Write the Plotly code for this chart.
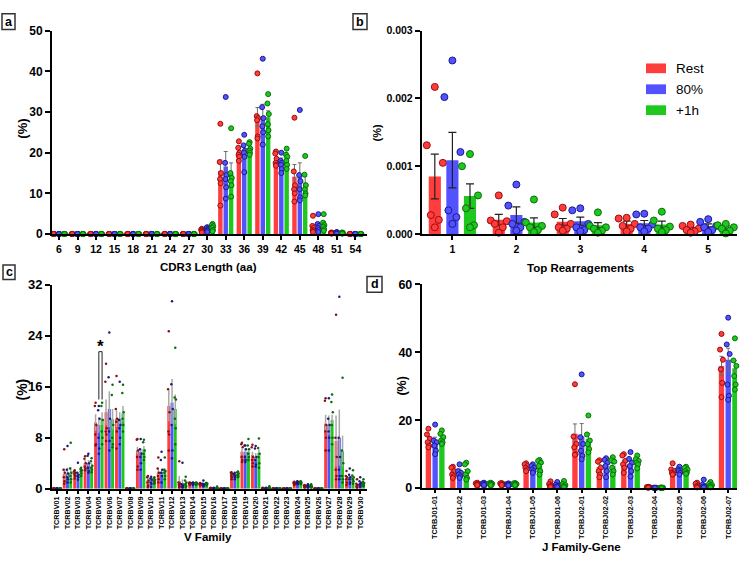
import plotly.graph_objects as go

W, H = 740, 562
FONT = "Liberation Sans, Arial, Helvetica, sans-serif"

SERIES = ["Rest", "80%", "+1h"]
BAR_COLORS = ["#ff3d3d", "#5252ff", "#1ec81e"]
EDGE_COLORS = ["#9a0d0d", "#1c1c8c", "#0a6e0a"]
SMALL_DOT_COLORS = ["#8a1010", "#1a1a80", "#0c6a0c"]

# ---------------- panel a : CDR3 length ----------------
CDR3_LENGTHS = [6, 9, 12, 15, 18, 21, 24, 27, 30, 33, 36, 39, 42, 45, 48, 51, 54]
CDR3_MEAN_REST = [0.02, 0.02, 0.02, 0.02, 0.02, 0.02, 0.02, 0.02, 1.2, 15.5, 20.3, 28.8, 17.9, 14.1, 1.8, 0.3, 0.02]
CDR3_MEAN_80 = [0.02, 0.02, 0.02, 0.02, 0.02, 0.02, 0.02, 0.02, 1.5, 16.6, 20.6, 28.9, 18.0, 14.5, 2.1, 0.4, 0.02]
CDR3_MEAN_1H = [0.02, 0.02, 0.02, 0.02, 0.02, 0.02, 0.02, 0.02, 2.2, 15.0, 21.1, 28.7, 19.1, 12.7, 2.5, 0.3, 0.02]
CDR3_SEM_REST = [0, 0, 0, 0, 0, 0, 0, 0, 0.3, 2.7, 1.0, 2.3, 0.8, 3.0, 0.6, 0.1, 0]
CDR3_SEM_80 = [0, 0, 0, 0, 0, 0, 0, 0, 0.4, 3.7, 1.4, 3.0, 0.7, 3.0, 0.7, 0.1, 0]
CDR3_SEM_1H = [0, 0, 0, 0, 0, 0, 0, 0, 0.4, 2.5, 0.8, 1.6, 0.8, 1.5, 0.6, 0.1, 0]
Z6 = [0.02] * 6
CDR3_PTS_REST = [Z6] * 8 + [
    [1.3, 1.1, 0.9, 0.8, 0.6, 0.4], [27.1, 17.7, 15.0, 13.5, 12.5, 7.0],
    [22.8, 21.2, 20.0, 19.5, 19.0, 18.0], [39.5, 29.0, 28.5, 28.0, 24.0, 23.5],
    [20.3, 19.8, 18.5, 17.5, 17.0, 16.8], [28.6, 15.4, 12.0, 11.0, 10.0, 8.0],
    [4.5, 2.0, 1.5, 1.0, 0.8, 0.5], [0.4, 0.3, 0.3, 0.2, 0.2, 0.1], Z6]
CDR3_PTS_80 = [Z6] * 8 + [
    [1.7, 1.5, 1.2, 1.0, 0.8, 0.5], [33.7, 17.5, 14.5, 13.5, 11.5, 8.7],
    [24.4, 21.8, 20.5, 20.0, 19.0, 15.2], [43.1, 31.2, 28.5, 26.5, 25.0, 22.0],
    [20.0, 18.0, 17.5, 17.0, 16.0, 15.0], [30.5, 14.5, 13.0, 11.0, 9.0, 8.3],
    [4.9, 2.5, 2.0, 1.5, 1.0, 0.5], [0.5, 0.4, 0.3, 0.3, 0.2, 0.1], Z6]
CDR3_PTS_1H = [Z6] * 8 + [
    [2.5, 2.2, 1.9, 1.5, 1.0, 0.7], [26.0, 15.0, 13.8, 13.0, 12.0, 9.2],
    [22.6, 22.2, 21.0, 20.5, 20.0, 19.5], [34.4, 32.1, 29.5, 27.0, 25.5, 24.0],
    [21.0, 19.5, 19.0, 18.0, 17.0, 16.0], [19.2, 14.6, 12.0, 11.0, 10.0, 9.5],
    [4.9, 2.8, 2.2, 1.8, 1.2, 0.8], [0.4, 0.3, 0.3, 0.2, 0.2, 0.1], Z6]

# ---------------- panel b : top rearrangements ----------------
TOP_RANKS = ["1", "2", "3", "4", "5"]
TOP_MEAN_REST = [0.00085, 0.00021, 0.00018, 0.00015, 0.00008]
TOP_MEAN_80 = [0.00109, 0.00028, 0.00019, 0.00016, 0.00012]
TOP_MEAN_1H = [0.00056, 0.00017, 0.00013, 0.00014, 0.00009]
TOP_SEM_REST = [0.00033, 0.00008, 0.00005, 0.00004, 0.00002]
TOP_SEM_80 = [0.00041, 0.00012, 0.00006, 0.00004, 0.00003]
TOP_SEM_1H = [0.00018, 0.00007, 0.00004, 0.00005, 0.00003]
TOP_PTS_REST = [[0.00217, 0.00131, 0.00105, 0.00028, 0.00021, 0.00010],
                [0.00057, 0.00020, 0.00019, 0.00015, 0.00010, 0.00002],
                [0.00039, 0.00029, 0.00015, 0.00010, 0.00008, 0.00005],
                [0.00024, 0.00023, 0.00015, 0.00012, 0.00008, 0.00004],
                [0.00014, 0.00012, 0.00008, 0.00006, 0.00004, 0.00002]]
TOP_PTS_80 = [[0.00256, 0.00202, 0.00121, 0.00035, 0.00025, 0.00015],
              [0.00073, 0.00042, 0.00018, 0.00015, 0.00010, 0.00005],
              [0.00038, 0.00035, 0.00015, 0.00010, 0.00006, 0.00004],
              [0.00030, 0.00029, 0.00014, 0.00010, 0.00008, 0.00004],
              [0.00022, 0.00018, 0.00012, 0.00010, 0.00006, 0.00003]]
TOP_PTS_1H = [[0.00118, 0.00100, 0.00057, 0.00038, 0.00013, 0.00010],
              [0.00051, 0.00017, 0.00012, 0.00010, 0.00006, 0.00003],
              [0.00032, 0.00012, 0.00010, 0.00008, 0.00005, 0.00002],
              [0.00033, 0.00020, 0.00011, 0.00008, 0.00006, 0.00003],
              [0.00015, 0.00013, 0.00010, 0.00008, 0.00005, 0.00001]]

# ---------------- panel c : V family ----------------
V_FAMILIES = ["TCRBV%02d" % i for i in range(1, 31)]
V_MEAN_REST = [0.05, 2.3, 2.6, 4.0, 10.4, 12.0, 11.0, 0.05, 6.0, 1.3, 2.6, 13.0, 1.2, 0.9, 0.8,
               0.1, 0.05, 2.3, 5.8, 5.3, 0.1, 0.05, 0.05, 0.9, 0.4, 0.05, 10.2, 7.5, 1.6, 0.6]
V_MEAN_80 = [0.05, 2.4, 2.3, 4.0, 10.0, 12.5, 11.0, 0.05, 5.8, 1.4, 2.6, 13.5, 0.9, 0.9, 0.7,
             0.1, 0.05, 2.2, 5.8, 5.0, 0.1, 0.05, 0.05, 1.0, 0.4, 0.05, 10.0, 8.0, 1.8, 0.9]
V_MEAN_1H = [0.05, 2.5, 3.0, 3.5, 11.0, 10.9, 11.8, 0.05, 6.2, 1.4, 2.8, 12.5, 0.9, 0.9, 0.8,
             0.1, 0.05, 2.5, 5.8, 5.6, 0.15, 0.05, 0.05, 1.0, 0.4, 0.05, 10.8, 5.9, 1.7, 0.9]
V_SEM_REST = [0, 0.9, 0.3, 0.5, 1.3, 2.0, 1.3, 0, 0.6, 0.5, 0.6, 2.4, 0.8, 0.1, 0.1,
              0.05, 0, 0.3, 0.5, 0.5, 0.05, 0, 0, 0.1, 0.1, 0, 1.4, 4.0, 0.3, 0.2]
V_SEM_80 = [0, 0.9, 0.3, 0.5, 1.2, 2.8, 1.0, 0, 0.5, 0.4, 0.5, 3.7, 0.6, 0.1, 0.2,
            0.05, 0, 0.3, 0.5, 0.6, 0.05, 0, 0, 0.1, 0.1, 0, 1.5, 4.4, 0.3, 0.3]
V_SEM_1H = [0, 0.9, 0.3, 0.5, 1.0, 1.6, 1.2, 0, 0.5, 0.3, 0.4, 2.3, 0.3, 0.1, 0.1,
            0.05, 0, 0.3, 0.6, 0.6, 0.05, 0, 0, 0.1, 0.1, 0, 0.8, 2.4, 0.3, 0.3]
Z = [0.05, 0.04, 0.03, 0.02, 0.02, 0.01]
V_PTS_REST = [Z, [6.2, 3.0, 2.5, 1.8, 1.2, 0.8], [2.9, 2.7, 2.5, 2.3, 2.0, 1.6], [5.1, 4.7, 4.0, 3.5, 3.2, 2.9],
              [13.5, 13.0, 10.0, 8.5, 7.0, 6.8], [19.6, 16.8, 9.5, 9.0, 8.5, 7.5], [17.7, 12.5, 11.0, 10.5, 9.0, 6.3],
              Z, [7.8, 7.7, 6.0, 5.0, 3.5, 3.0], [2.0, 1.8, 1.3, 1.0, 0.5, 0.3], [4.9, 3.2, 2.5, 2.0, 1.5, 1.0],
              [24.7, 15.6, 12.0, 9.0, 8.5, 6.0], [4.3, 1.0, 0.8, 0.6, 0.4, 0.2], [1.0, 0.9, 0.9, 0.8, 0.7, 0.6],
              [0.9, 0.8, 0.8, 0.7, 0.6, 0.5], [0.15, 0.1, 0.1, 0.05, 0.05, 0.02], Z,
              [2.6, 2.5, 2.3, 2.1, 1.8, 1.5], [7.2, 7.0, 6.5, 5.0, 4.5, 4.2], [6.9, 6.5, 5.0, 4.5, 4.0, 3.5],
              [0.15, 0.1, 0.1, 0.05, 0.05, 0.02], Z, Z, [1.1, 1.0, 0.9, 0.8, 0.7, 0.6],
              [0.6, 0.5, 0.4, 0.3, 0.3, 0.2], Z, [14.2, 13.8, 10.0, 9.0, 8.0, 6.0],
              [27.3, 8.0, 5.0, 3.0, 2.0, 1.5], [2.8, 2.0, 1.8, 1.5, 1.0, 0.6], [1.5, 0.8, 0.6, 0.4, 0.3, 0.2]]
V_PTS_80 = [Z, [6.7, 3.0, 2.4, 1.8, 1.5, 1.0], [4.1, 2.5, 2.2, 2.0, 1.8, 1.4], [5.5, 5.2, 4.0, 3.3, 2.8, 2.5],
            [13.0, 12.3, 11.0, 8.0, 6.3, 5.5], [24.5, 17.5, 11.0, 9.0, 7.5, 6.0], [16.8, 10.8, 10.0, 9.5, 8.0, 7.0],
            Z, [7.8, 6.2, 5.5, 5.0, 4.0, 3.0], [1.9, 1.6, 1.4, 1.0, 0.8, 0.3], [5.8, 4.5, 3.0, 2.5, 2.0, 1.0],
            [29.4, 16.4, 12.5, 10.0, 6.0, 4.8], [4.1, 0.7, 0.5, 0.4, 0.3, 0.2], [1.0, 0.9, 0.9, 0.8, 0.7, 0.6],
            [1.3, 0.8, 0.7, 0.6, 0.5, 0.4], [0.15, 0.1, 0.1, 0.05, 0.05, 0.02], Z,
            [2.5, 2.3, 2.1, 2.0, 1.8, 1.5], [6.8, 6.8, 6.2, 5.0, 4.5, 4.2], [6.7, 6.3, 5.0, 4.5, 3.8, 3.5],
            [0.15, 0.1, 0.1, 0.05, 0.05, 0.02], Z, Z, [1.2, 1.1, 1.0, 0.9, 0.8, 0.7],
            [0.7, 0.5, 0.4, 0.3, 0.3, 0.2], Z, [14.2, 11.0, 10.0, 9.0, 8.0, 6.0],
            [30.1, 8.0, 5.0, 3.0, 2.0, 1.5], [3.2, 2.2, 1.8, 1.5, 1.0, 0.8], [1.8, 1.2, 0.9, 0.7, 0.5, 0.3]]
V_PTS_1H = [Z, [7.2, 3.2, 2.5, 2.0, 1.5, 1.0], [3.3, 3.1, 2.9, 2.7, 2.4, 2.0], [4.8, 4.3, 3.6, 3.3, 3.0, 2.6],
            [13.5, 13.0, 10.8, 9.0, 8.0, 7.0], [16.3, 14.7, 10.0, 8.0, 7.0, 6.5], [16.3, 15.0, 12.0, 11.0, 10.0, 9.0],
            Z, [7.7, 7.3, 6.0, 5.5, 5.0, 4.5], [1.8, 1.6, 1.4, 1.2, 1.0, 0.8], [4.9, 3.0, 2.8, 2.5, 2.0, 1.5],
            [22.1, 14.3, 14.0, 11.0, 9.5, 7.0], [1.9, 1.3, 1.0, 0.7, 0.4, 0.2], [1.0, 0.9, 0.9, 0.8, 0.7, 0.6],
            [0.9, 0.9, 0.8, 0.7, 0.6, 0.5], [0.35, 0.1, 0.1, 0.05, 0.05, 0.02], Z,
            [2.7, 2.6, 2.4, 2.2, 2.0, 1.8], [7.8, 6.8, 6.2, 5.5, 5.0, 4.5], [7.9, 6.4, 5.5, 5.0, 4.0, 3.3],
            [0.4, 0.15, 0.1, 0.1, 0.05, 0.02], Z, Z, [1.2, 1.1, 1.0, 0.9, 0.8, 0.7],
            [0.7, 0.5, 0.4, 0.4, 0.3, 0.2], Z, [14.8, 13.6, 12.0, 10.0, 8.0, 7.0],
            [17.4, 6.0, 4.0, 2.0, 1.5, 1.0], [2.9, 2.1, 1.8, 1.5, 1.2, 0.8], [1.5, 1.1, 0.9, 0.7, 0.6, 0.4]]
SIG_FAMILY = "TCRBV05"
SIG_LOW, SIG_HIGH, SIG_STAR_Y = 14.0, 21.5, 23.0

# ---------------- panel d : J family-gene ----------------
J_GENES = ["TCRBJ01-01", "TCRBJ01-02", "TCRBJ01-03", "TCRBJ01-04", "TCRBJ01-05", "TCRBJ01-06",
           "TCRBJ02-01", "TCRBJ02-02", "TCRBJ02-03", "TCRBJ02-04", "TCRBJ02-05", "TCRBJ02-06", "TCRBJ02-07"]
J_MEAN_REST = [14.2, 5.0, 1.2, 1.2, 6.7, 0.9, 16.0, 6.2, 7.2, 0.3, 5.2, 0.8, 36.0]
J_MEAN_80 = [13.8, 5.0, 1.2, 1.1, 5.9, 0.8, 15.3, 6.5, 7.0, 0.1, 5.1, 0.8, 37.8]
J_MEAN_1H = [14.5, 4.8, 1.2, 1.2, 6.5, 0.9, 14.5, 6.6, 8.0, 0.1, 5.3, 0.9, 35.3]
J_SEM_REST = [0.9, 0.6, 0.1, 0.1, 0.4, 0.3, 2.9, 0.8, 0.8, 0.05, 0.5, 0.2, 2.8]
J_SEM_80 = [1.2, 0.6, 0.1, 0.1, 0.4, 0.3, 3.7, 0.8, 1.0, 0.05, 0.3, 0.3, 3.4]
J_SEM_1H = [0.6, 0.7, 0.1, 0.1, 0.6, 0.3, 1.6, 0.7, 0.5, 0.05, 0.3, 0.2, 2.2]
J_PTS_REST = [[17.5, 15.8, 14.5, 13.5, 12.5, 12.0], [6.3, 6.0, 5.0, 4.0, 3.5, 3.0], [1.6, 1.4, 1.2, 1.1, 1.0, 0.9],
              [1.5, 1.4, 1.2, 1.1, 1.0, 0.9], [7.3, 7.0, 6.5, 6.0, 5.5, 5.0], [2.0, 1.2, 0.8, 0.6, 0.4, 0.3],
              [30.6, 15.2, 13.0, 12.0, 10.0, 9.8], [8.2, 7.8, 6.0, 5.0, 4.0, 3.2], [10.0, 9.6, 8.0, 7.0, 6.0, 4.5],
              [0.4, 0.3, 0.3, 0.2, 0.2, 0.1], [7.3, 5.5, 5.0, 4.5, 4.2, 4.0], [1.6, 1.3, 0.8, 0.5, 0.3, 0.2],
              [45.4, 40.8, 37.8, 35.0, 31.0, 26.8]]
J_PTS_80 = [[18.7, 14.0, 13.5, 12.5, 11.0, 10.0], [7.0, 5.0, 4.5, 4.0, 3.5, 3.0], [1.6, 1.4, 1.2, 1.1, 1.0, 0.9],
            [1.4, 1.2, 1.1, 1.0, 0.9, 0.8], [7.0, 6.5, 6.0, 5.5, 5.0, 4.5], [1.8, 1.0, 0.7, 0.5, 0.4, 0.3],
            [33.5, 15.0, 13.0, 11.0, 9.5, 8.5], [8.8, 8.3, 7.5, 6.5, 5.0, 3.2], [10.6, 8.6, 7.5, 6.5, 5.0, 3.4],
            [0.15, 0.1, 0.1, 0.05, 0.05, 0.02], [6.3, 5.5, 5.2, 5.0, 4.5, 4.0], [2.5, 1.0, 0.6, 0.4, 0.3, 0.2],
            [50.2, 42.3, 39.5, 30.5, 27.2, 26.0]]
J_PTS_1H = [[17.0, 16.0, 15.0, 14.0, 13.5, 13.0], [7.5, 7.0, 5.0, 4.0, 3.0, 2.5], [1.6, 1.4, 1.3, 1.1, 1.0, 0.9],
            [1.5, 1.4, 1.2, 1.1, 1.0, 0.9], [8.3, 8.0, 7.5, 6.5, 5.0, 4.0], [2.1, 1.2, 0.9, 0.6, 0.4, 0.3],
            [21.4, 15.8, 14.0, 13.0, 11.5, 10.5], [9.1, 8.2, 7.8, 6.0, 5.0, 4.0], [9.6, 8.5, 8.0, 7.5, 7.0, 5.8],
            [0.2, 0.15, 0.1, 0.05, 0.05, 0.02], [6.3, 6.0, 5.5, 5.0, 4.5, 4.2], [1.8, 1.2, 0.9, 0.6, 0.4, 0.2],
            [44.1, 37.6, 36.0, 33.0, 30.5, 29.0]]

# ---------------- styling helpers ----------------
JITTER = [0.0, -0.3, 0.3, -0.15, 0.15, 0.0]


def px_x(x):
    return x / W


def px_y(y):
    return 1 - y / H


fig = go.Figure()


def add_panel(ax, means, sems, points, offset, bar_w, jit, msize, dot_fill, dot_line,
              dot_lw, err_color, err_th, err_w):
    xref = "x" if ax == 1 else "x%d" % ax
    yref = "y" if ax == 1 else "y%d" % ax
    for s in range(3):
        n = len(means[s])
        xs = [i + (s - 1) * offset for i in range(n)]
        fig.add_trace(go.Bar(
            x=xs, y=means[s], width=bar_w, name=SERIES[s], xaxis=xref, yaxis=yref,
            marker=dict(color=BAR_COLORS[s], line=dict(width=0)), showlegend=False,
            error_y=dict(type="data", array=sems[s], symmetric=True, color=err_color,
                         thickness=err_th, width=err_w)))
        px, py = [], []
        for i, pts in enumerate(points[s]):
            for j, v in enumerate(pts):
                px.append(xs[i] + JITTER[j % len(JITTER)] * jit * bar_w)
                py.append(v)
        fig.add_trace(go.Scatter(
            x=px, y=py, mode="markers", xaxis=xref, yaxis=yref, showlegend=False,
            cliponaxis=False, name=SERIES[s],
            marker=dict(size=msize, color=dot_fill[s], line=dict(color=dot_line[s], width=dot_lw))))


add_panel(1, [CDR3_MEAN_REST, CDR3_MEAN_80, CDR3_MEAN_1H], [CDR3_SEM_REST, CDR3_SEM_80, CDR3_SEM_1H],
          [CDR3_PTS_REST, CDR3_PTS_80, CDR3_PTS_1H], 0.29, 0.24, 0.5, 5, BAR_COLORS, EDGE_COLORS, 1,
          "#6e6e6e", 1, 2)
add_panel(2, [TOP_MEAN_REST, TOP_MEAN_80, TOP_MEAN_1H], [TOP_SEM_REST, TOP_SEM_80, TOP_SEM_1H],
          [TOP_PTS_REST, TOP_PTS_80, TOP_PTS_1H], 0.275, 0.19, 2.2, 7, BAR_COLORS, EDGE_COLORS, 1,
          "#222222", 1.2, 4)
add_panel(3, [V_MEAN_REST, V_MEAN_80, V_MEAN_1H], [V_SEM_REST, V_SEM_80, V_SEM_1H],
          [V_PTS_REST, V_PTS_80, V_PTS_1H], 0.31, 0.28, 0.8, 2.5, SMALL_DOT_COLORS, SMALL_DOT_COLORS, 0,
          "#a8a8a8", 1.5, 0)
add_panel(4, [J_MEAN_REST, J_MEAN_80, J_MEAN_1H], [J_SEM_REST, J_SEM_80, J_SEM_1H],
          [J_PTS_REST, J_PTS_80, J_PTS_1H], 0.275, 0.22, 0.9, 5, BAR_COLORS, EDGE_COLORS, 1,
          "#6e6e6e", 1, 2)

BOLD = "bold"


def xaxis(dom, rng, cats, size, angle=0, ticklen=4):
    return dict(domain=dom, range=rng, tickmode="array", tickvals=list(range(len(cats))), ticktext=cats,
                ticks="outside", ticklen=ticklen, tickwidth=1.5, tickcolor="black", tickangle=angle,
                showline=True, linecolor="black", linewidth=1.8, showgrid=False, zeroline=False,
                tickfont=dict(family=FONT, size=size, color="black", weight=BOLD), fixedrange=True)


def yaxis(dom, rng, vals, size, fmt=None):
    d = dict(domain=dom, range=rng, tickmode="array", tickvals=vals,
             ticks="outside", ticklen=5, tickwidth=1.5, tickcolor="black",
             showline=True, linecolor="black", linewidth=1.8, showgrid=False, zeroline=False,
             tickfont=dict(family=FONT, size=size, color="black", weight=BOLD), fixedrange=True)
    if fmt:
        d["tickformat"] = fmt
    return d


top_dom = [px_y(233.3), px_y(24.3)]
bot_dom_c = [px_y(495), px_y(285.3)]
bot_dom_d = [px_y(494.3), px_y(285)]
left_dom = [px_x(52), px_x(366.5)]
right_dom = [px_x(421.7), px_x(737)]

fig.update_layout(
    width=W, height=H, margin=dict(l=0, r=0, t=0, b=0),
    paper_bgcolor="white", plot_bgcolor="white", showlegend=False, barmode="overlay",
    xaxis=dict(xaxis(left_dom, [-0.38, 16.6], [str(v) for v in CDR3_LENGTHS], 10.5), anchor="y"),
    yaxis=dict(yaxis(top_dom, [0, 50], [0, 10, 20, 30, 40, 50], 12), anchor="x"),
    xaxis2=dict(xaxis(right_dom, [-0.48, 4.45], TOP_RANKS, 10.5), anchor="y2"),
    yaxis2=dict(yaxis(top_dom, [0, 0.003], [0, 0.001, 0.002, 0.003], 10.5, ".3f"), anchor="x2"),
    xaxis3=dict(xaxis(left_dom, [-0.48, 29.6], V_FAMILIES, 7.2, -90, 3), anchor="y3"),
    yaxis3=dict(yaxis(bot_dom_c, [0, 32], [0, 8, 16, 24, 32], 13), anchor="x3"),
    xaxis4=dict(xaxis(right_dom, [-0.55, 12.36], J_GENES, 7.3, -90, 3), anchor="y4"),
    yaxis4=dict(yaxis(bot_dom_d, [0, 60], [0, 20, 40, 60], 12.5), anchor="x4"),
)

annotations = []
shapes = []


def text_ann(x, y, text, size, angle=0, bold=True, xanchor="center", yanchor="middle"):
    annotations.append(dict(x=px_x(x), y=px_y(y), xref="paper", yref="paper", text=text, showarrow=False,
                            textangle=angle, xanchor=xanchor, yanchor=yanchor,
                            font=dict(family=FONT, size=size, color="black",
                                      weight="bold" if bold else "normal")))


# axis titles
text_ann(208, 267, "CDR3 Length (aa)", 11.5)
text_ann(580, 268, "Top Rearragements", 11.5)
text_ann(208, 545, "V Family", 11.5)
text_ann(581, 555, "J Family-Gene", 11.5)
text_ann(23, 125, "(%)", 13, -90)
text_ann(377, 130, "(%)", 11, -90)
text_ann(22, 393, "(%)", 14, -90)
text_ann(402, 390, "(%)", 12.5, -90)

# panel letters in boxes
for letter, (x0, y0, x1, y1) in zip(["a", "b", "c", "d"],
                                    [(2, 7, 15, 23), (353, 7, 367, 23), (3, 265, 15, 280), (367, 277, 382, 293)]):
    shapes.append(dict(type="rect", xref="paper", yref="paper", x0=px_x(x0), x1=px_x(x1), y0=px_y(y1),
                       y1=px_y(y0), line=dict(color="#333333", width=1.5), fillcolor="white"))
    text_ann((x0 + x1) / 2, (y0 + y1) / 2, letter, 12.5)

# legend for panel b (drawn from the series names)
for s, name in enumerate(SERIES):
    yc = 63 + s * 21.5
    shapes.append(dict(type="rect", xref="paper", yref="paper", x0=px_x(646), x1=px_x(666),
                       y0=px_y(yc + 5), y1=px_y(yc - 5), line=dict(width=0), fillcolor=BAR_COLORS[s]))
    text_ann(674, yc, name, 13.5, bold=False, xanchor="left")

# significance bracket in panel c
sig_i = V_FAMILIES.index(SIG_FAMILY)
bx0 = sig_i + 0 * 0.31
bx1 = sig_i + 1 * 0.31
shapes.append(dict(type="path", xref="x3", yref="y3",
                   path="M %f,%f L %f,%f L %f,%f L %f,%f" % (bx0, SIG_LOW, bx0, SIG_HIGH, bx1, SIG_HIGH, bx1, SIG_LOW),
                   line=dict(color="#222222", width=1)))
annotations.append(dict(x=(bx0 + bx1) / 2, y=SIG_STAR_Y, xref="x3", yref="y3", text="*", showarrow=False,
                        yanchor="middle", yshift=-4, font=dict(family=FONT, size=17, color="black", weight="bold")))

fig.update_layout(annotations=annotations, shapes=shapes)
fig.write_html("out.html", config={"displayModeBar": False},
               post_script="document.body.style.margin='0px';document.body.style.padding='0px';")
